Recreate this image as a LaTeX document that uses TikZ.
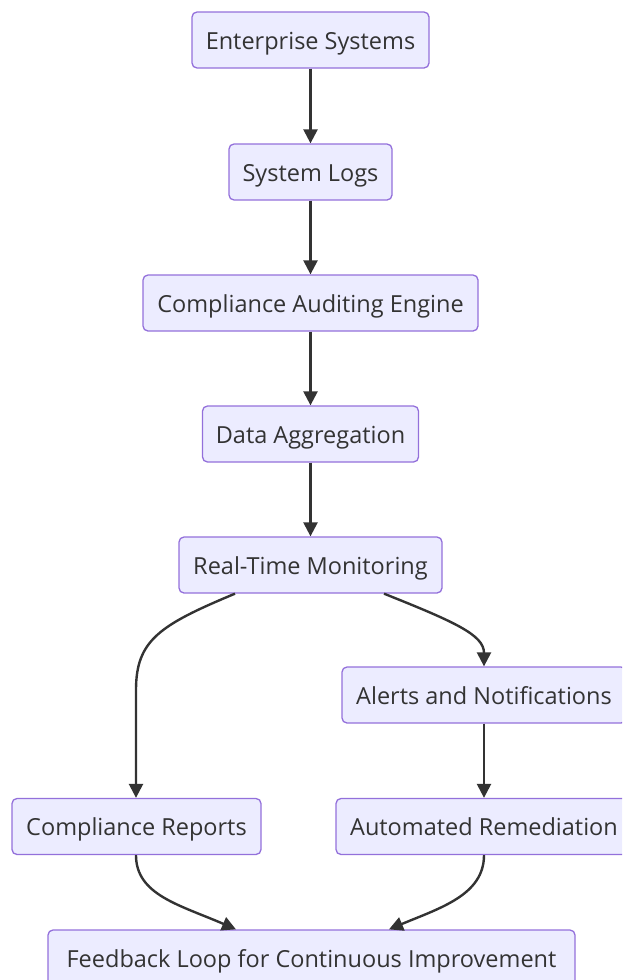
\documentclass[tikz,border=0pt]{standalone}
\usepackage{fontspec}
\setmainfont{Open Sans}
\usetikzlibrary{arrows.meta}
\definecolor{boxfill}{HTML}{ECECFF}
\definecolor{boxline}{HTML}{9370DB}
\definecolor{ink}{HTML}{333333}
\tikzset{
  flowbox/.style={draw=boxline, fill=boxfill, line width=1.3pt, rounded corners=5pt,
    minimum height=56pt, inner sep=0pt, text=ink, text height=20pt, text depth=2pt,
    font=\fontsize{23.5}{28}\selectfont},
  flowarrow/.style={draw=ink, line width=2.4pt, -{Triangle[length=14pt,width=14pt]}}
}
\begin{document}
\begin{tikzpicture}[x=1pt, y=-1pt]
\useasboundingbox (0,0) rectangle (622,980);
\clip (0,0) rectangle (622,980);
% process steps
\node[flowbox, minimum width=237pt] (ent) at (310.5,40) {Enterprise Systems};
\node[flowbox, minimum width=163pt] (logs) at (310.5,172) {System Logs};
\node[flowbox, minimum width=335pt] (audit) at (310.5,303) {Compliance Auditing Engine};
\node[flowbox, minimum width=216pt] (agg) at (310.5,434) {Data Aggregation};
\node[flowbox, minimum width=263pt] (mon) at (310.5,565) {Real-Time Monitoring};
\node[flowbox, minimum width=284pt] (alert) at (484,695) {Alerts and Notifications};
\node[flowbox, minimum width=249pt] (rep) at (136.5,826.5) {Compliance Reports};
\node[flowbox, minimum width=296pt] (rem) at (484,826.5) {Automated Remediation};
\node[flowbox, minimum width=527pt] (fb) at (311.5,958) {Feedback Loop for Continuous Improvement};
% connectors
\draw[flowarrow] (ent) -- (logs);
\draw[flowarrow] (logs) -- (audit);
\draw[flowarrow] (audit) -- (agg);
\draw[flowarrow] (agg) -- (mon);
\draw[flowarrow] (mon.south -| 235,0) .. controls (160,625) and (136,640) .. (136,690) -- (rep.north -| 136,0);
\draw[flowarrow] (mon.south -| 384,0) .. controls (455,622) and (484,635) .. (alert.north);
\draw[flowarrow] (alert) -- (rem);
\draw[flowarrow] (rep.south -| 136,0) .. controls (136,895) and (180,905) .. (fb.north -| 236,0);
\draw[flowarrow] (rem.south) .. controls (484,895) and (440,908) .. (fb.north -| 389,0);
\end{tikzpicture}
\end{document}
